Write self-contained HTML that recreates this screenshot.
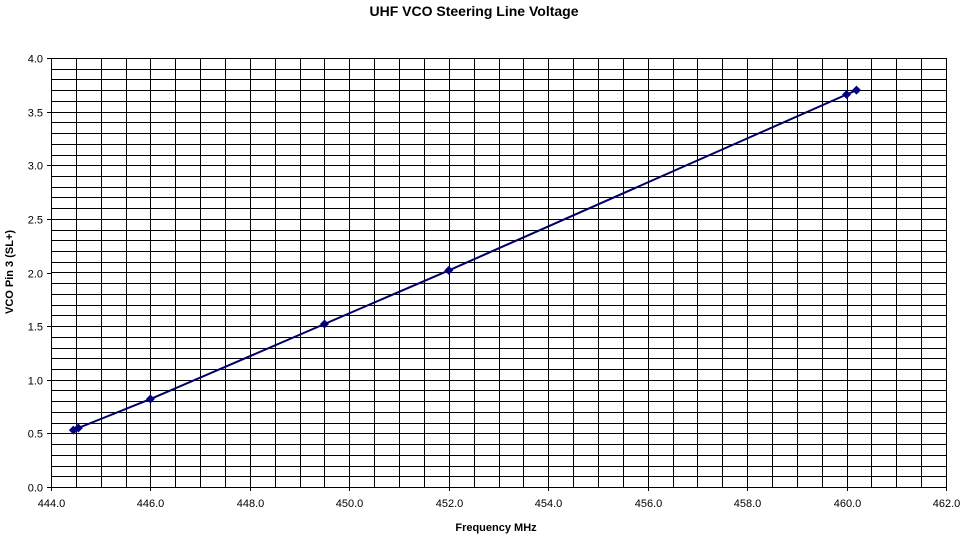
<!DOCTYPE html>
<html><head><meta charset="utf-8"><style>
html,body{margin:0;padding:0;background:#fff;}
svg{display:block;font-family:"Liberation Sans",Arial,sans-serif;}
</style></head><body>
<svg id="chart" width="962" height="537" xmlns="http://www.w3.org/2000/svg">
<text x="474" y="16" text-anchor="middle" font-size="14" font-weight="bold">UHF VCO Steering Line Voltage</text>
<text x="496" y="531" text-anchor="middle" font-size="11" font-weight="bold">Frequency MHz</text>
<text transform="translate(13,272) rotate(-90)" text-anchor="middle" font-size="11" font-weight="bold">VCO Pin 3 (SL+)</text>
<g id="grid"></g>
<g id="axes"></g>
<g id="series"></g>
</svg>
<script>
const freqs = [444.45, 444.55, 446.0, 449.5, 452.0, 460.0, 460.2];
const volts = [0.53, 0.55, 0.82, 1.52, 2.02, 3.66, 3.70];
const xTicks = [444, 446, 448, 450, 452, 454, 456, 458, 460, 462];
const yTicks = [0, 0.5, 1.0, 1.5, 2.0, 2.5, 3.0, 3.5, 4.0];

const X0=51, X1=946, Y0=487, Y1=58;
const xMin=444, xMax=462, yMin=0, yMax=4;
function sx(v){return X0+(v-xMin)/(xMax-xMin)*(X1-X0);}
function sy(v){return Y0-(v-yMin)/(yMax-yMin)*(Y0-Y1);}
const NS="http://www.w3.org/2000/svg";
function mk(tag,attrs,parent){const e=document.createElementNS(NS,tag);for(const k in attrs)e.setAttribute(k,attrs[k]);parent.appendChild(e);return e;}
const grid=document.getElementById('grid'), axes=document.getElementById('axes'), series=document.getElementById('series');

for(let v=yMin; v<=yMax+1e-9; v+=0.1){
  const y=Math.round(sy(v))+0.5;
  const l=mk('line',{x1:X0,x2:X1,y1:y,y2:y,stroke:'#000','stroke-width':1},grid);
  
  
}
for(let v=xMin; v<=xMax+1e-9; v+=0.5){
  const x=Math.round(sx(v))+0.5;
  const l=mk('line',{x1:x,x2:x,y1:Y1,y2:Y0,stroke:'#000','stroke-width':1},grid);
  
  
}
yTicks.forEach(v=>{
  const y=Math.round(sy(v))+0.5;
  const tk=mk('line',{x1:X0-4,x2:X0,y1:y,y2:y,stroke:'#000'},axes);
  
  
  const t=mk('text',{x:X0-8,y:y+4,'text-anchor':'end','font-size':11},axes);
  t.textContent=v.toFixed(1);
  
  
});
xTicks.forEach(v=>{
  const x=Math.round(sx(v))+0.5;
  const tk=mk('line',{x1:x,x2:x,y1:Y0,y2:Y0+4,stroke:'#000'},axes);
  
  
  const t=mk('text',{x:x,y:Y0+20,'text-anchor':'middle','font-size':11},axes);
  t.textContent=v.toFixed(1);
  
  
});
const pts=freqs.map((f,i)=>sx(f).toFixed(1)+','+sy(volts[i]).toFixed(1)).join(' ');
const pl=mk('polyline',{points:pts,fill:'none',stroke:'#000066','stroke-width':2},series);


freqs.forEach((f,i)=>{
  const x=sx(f), y=sy(volts[i]), r=4.5;
  const m=mk('polygon',{points:`${x},${y-r} ${x+r},${y} ${x},${y+r} ${x-r},${y}`,fill:'#000080'},series);
  
  
});
</script>
</body></html>
